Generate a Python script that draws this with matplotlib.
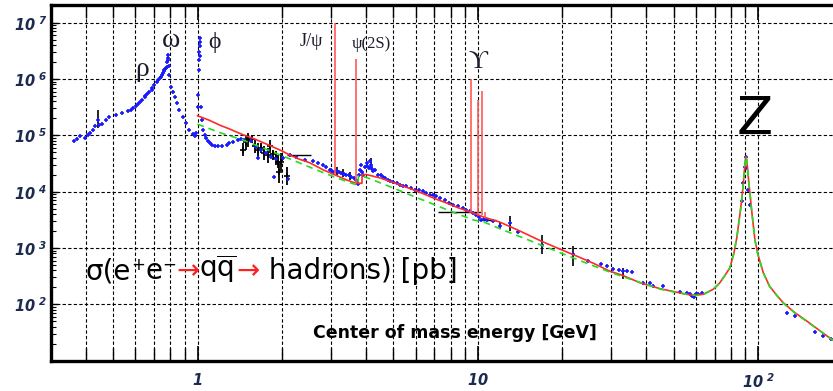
import matplotlib
matplotlib.use('Agg')
import matplotlib.pyplot as plt
import matplotlib.ticker as mticker

plt.rcParams['mathtext.fontset'] = 'custom'
plt.rcParams['mathtext.rm'] = 'DejaVu Sans:italic:bold'
plt.rcParams['mathtext.it'] = 'DejaVu Sans:italic:bold'
plt.rcParams['mathtext.bf'] = 'DejaVu Sans:italic:bold'

# --- measurements without visible error bars (E [GeV], sigma [pb]) ---
blue_E = [0.361, 0.372, 0.381, 0.398, 0.405, 0.414, 0.424, 0.432, 0.445, 0.457,
          0.470, 0.482, 0.510, 0.538, 0.565, 0.580, 0.590, 0.601, 0.611, 0.621,
          0.632, 0.647, 0.650, 0.660, 0.674, 0.688, 0.690, 0.702, 0.716, 0.720,
          0.732, 0.740, 0.745, 0.755, 0.760, 0.762, 0.768, 0.772, 0.777, 0.780,
          0.782, 0.783, 0.785, 0.788, 0.794, 0.805, 0.817, 0.828, 0.844, 0.862,
          0.886, 0.911, 0.936, 0.960, 0.976, 0.990,
          1.000, 1.005, 1.012, 1.014, 1.016, 1.017, 1.018, 1.019, 1.021, 1.025,
          1.036, 1.050, 1.060, 1.074, 1.090, 1.104, 1.13, 1.15, 1.18, 1.22,
          1.27, 1.30, 1.34, 1.39, 1.43, 1.47, 1.55, 1.62, 1.64, 1.69, 1.76,
          1.83, 1.88, 1.91, 2.02, 2.10, 2.13, 2.25, 2.41, 2.58, 2.70, 2.80,
          2.88, 2.96, 3.00, 3.05, 3.13, 3.20, 3.26, 3.33, 3.40, 3.47, 3.54,
          3.62, 3.69, 3.72, 3.75, 3.77, 3.79, 3.84, 3.87, 3.89, 3.95, 4.01,
          4.04, 4.08, 4.11, 4.16, 4.20, 4.23, 4.30, 4.40, 4.50, 4.59, 4.68,
          4.78, 4.88, 4.99, 5.13, 5.27, 5.40, 5.56, 5.76, 5.96, 6.17, 6.38,
          6.55, 6.74, 6.92, 7.11, 7.35, 7.62, 7.90, 8.16, 8.50, 8.86, 9.10,
          9.36, 9.60, 9.89, 10.1, 10.3, 10.5, 10.8, 11.3, 13.96, 24.8, 27.6,
          29.0, 30.4, 32.0, 34.0, 35.4, 38.9, 41.1, 42.3, 45.9, 52.6, 55.6,
          57.0, 58.0, 59.0, 60.0, 61.2, 62.9,
          87.7, 88.7, 89.9, 90.6, 91.0, 92.5, 93.8,
          126.6, 135.6, 160.0, 170.0, 182.0]
blue_sig = [7.8e4, 8.5e4, 9.6e4, 9.0e4, 1.0e5, 1.1e5, 1.25e5, 1.48e5, 1.55e5, 1.61e5,
            1.85e5, 2.11e5, 2.3e5, 2.48e5, 2.7e5, 2.84e5, 3.1e5, 3.35e5, 3.6e5, 3.99e5,
            4.3e5, 4.77e5, 5.0e5, 5.4e5, 6.0e5, 6.9e5, 6.5e5, 7.9e5, 8.9e5, 9.8e5,
            1.03e6, 1.08e6, 1.18e6, 1.3e6, 1.45e6, 1.36e6, 1.5e6, 1.6e6, 1.66e6, 2.0e6,
            2.4e6, 2.68e6, 2.2e6, 1.7e6, 1.19e6, 7.35e5, 5.9e5, 4.89e5, 3.83e5, 2.84e5,
            2.16e5, 1.65e5, 1.26e5, 1.05e5, 9.6e4, 1.1e5,
            5.2e5, 3.25e5, 1.45e6, 2.2e6, 3.0e6, 3.8e6, 4.6e6, 5.4e6, 2.6e6, 3.25e5,
            1.9e5, 1.26e5, 1.0e5, 9.0e4, 7.8e4, 7.3e4, 6.8e4, 6.5e4, 6.4e4, 6.6e4,
            6.8e4, 7.2e4, 7.6e4, 8.2e4, 8.6e4, 8.4e4, 8.0e4, 6.3e4, 4.0e4, 5.6e4, 4.9e4,
            4.2e4, 1.8e4, 3.8e4, 4.0e4, 1.7e4, 4.4e4, 4.2e4, 3.7e4, 3.45e4, 3.2e4, 3.0e4,
            2.7e4, 2.46e4, 2.46e4, 2.2e4, 2.3e4, 2.2e4, 2.14e4, 2.05e4, 2.0e4, 1.95e4, 1.86e4,
            1.75e4, 1.63e4, 1.5e4, 1.35e4, 2.0e4, 2.46e4, 3.0e4, 2.2e4, 2.0e4, 2.8e4, 3.2e4,
            2.9e4, 2.6e4, 3.45e4, 2.7e4, 2.5e4, 2.3e4, 2.4e4, 2.0e4, 1.95e4, 1.86e4, 1.75e4,
            1.63e4, 1.55e4, 1.5e4, 1.42e4, 1.33e4, 1.28e4, 1.24e4, 1.15e4, 1.09e4, 1.05e4, 1.02e4,
            9.4e3, 8.9e3, 8.6e3, 8.3e3, 7.8e3, 7.2e3, 6.4e3, 5.9e3, 5.5e3, 5.1e3, 4.8e3,
            4.5e3, 4.2e3, 3.9e3, 3.5e3, 3.2e3, 3.3e3, 3.1e3, 3.0e3, 1.95e3, 585, 512,
            470, 417, 400, 385, 372, 242, 242, 211, 211, 165, 157,
            150, 140, 135, 150, 151, 157,
            6.8e3, 1.43e4, 2.8e4, 4.2e4, 2.6e4, 1.09e4, 5.9e3,
            71, 62, 32, 27.6, 24]

# --- measurements drawn with black error bars ---
err_E = [0.440, 3.15, 3.30, 3.50, 4.15, 11.96, 13.0, 16.9, 21.9, 33.0]
err_sig = [1.9e5, 2.3e4, 2.1e4, 1.9e4, 3.0e4, 2.5e3, 2.8e3, 1.15e3, 770, 389]
err_lo = [1.37e5, 2.0e4, 1.8e4, 1.6e4, 2.5e4, 2.2e3, 2.0e3, 770, 477, 277]
err_hi = [2.85e5, 2.8e4, 2.5e4, 2.2e4, 3.9e4, 2.9e3, 3.7e3, 1.67e3, 1.08e3, 446]

# --- black data cluster 1.4 - 2.1 GeV ---
blk_E = [1.45, 1.49, 1.52, 1.56, 1.60, 1.64, 1.69, 1.73, 1.78, 1.81, 1.86, 1.91,
         1.94, 1.96, 1.99, 2.09]
blk_lo = [4.3e4, 5.6e4, 6.3e4, 7.4e4, 4.9e4, 4.0e4, 4.9e4, 3.7e4, 3.2e4, 4.9e4,
          3.7e4, 3.0e4, 2.6e4, 1.4e4, 2.3e4, 1.33e4]
blk_hi = [7.4e4, 1.03e5, 1.1e5, 1.03e5, 8.4e4, 7.4e4, 7.4e4, 6.4e4, 6.0e4, 8.4e4,
          5.6e4, 5.2e4, 4.5e4, 3.5e4, 4.9e4, 2.8e4]
blk_sig = [5.6e4, 7.6e4, 8.3e4, 8.7e4, 6.4e4, 5.4e4, 6.0e4, 4.9e4, 4.4e4, 6.4e4,
           4.6e4, 3.9e4, 3.4e4, 2.2e4, 3.4e4, 1.9e4]

# --- energy-range bars ---
hbar_sig = [4.4e4, 4.3e3, 3.1e3]
hbar_E1 = [2.08, 7.19, 10.3]
hbar_E2 = [2.55, 10.3, 11.6]

# --- QCD prediction (red) ---
red_E = [1.00, 1.10, 1.20, 1.30, 1.45, 1.60, 1.80, 2.00, 2.13, 2.30, 2.50, 2.65,
         2.80, 3.00, 3.20, 3.40, 3.60, 3.86, 3.87, 4.00, 4.20, 4.47, 5.00, 5.50,
         5.88, 6.50, 7.00, 7.74, 8.50, 9.61, 10.5, 11.96, 14.0, 17.0, 19.9, 23.0,
         26.0, 29.6, 33.0, 37.9, 44.7, 52.0, 57.0, 60.4, 64.0, 69.2, 73.0, 76.0,
         79.4, 82.0, 84.0, 85.1, 86.5, 87.7, 88.7, 89.6, 90.2, 90.6, 91.2, 92.0,
         92.8, 93.6, 95.0, 97.5, 100.0, 104.5, 110, 116, 123, 135, 149, 165, 183, 200]
red_sig = [2.23e5, 1.86e5, 1.52e5, 1.30e5, 1.03e5, 8.6e4, 6.7e4, 5.3e4, 4.5e4, 3.8e4,
           3.3e4, 2.85e4, 2.46e4, 2.12e4, 1.85e4, 1.62e4, 1.46e4, 1.40e4, 2.0e4, 2.02e4,
           1.90e4, 1.76e4, 1.45e4, 1.22e4, 1.09e4, 8.9e3, 7.6e3, 6.3e3, 5.2e3, 4.2e3,
           3.55e3, 2.9e3, 2.05e3, 1.3e3, 930, 690, 530, 389, 325, 242, 190, 162, 148,
           145, 152, 185, 240, 320, 446, 800, 1.5e3, 2.44e3, 4.5e3, 8.0e3, 1.43e4,
           2.6e4, 3.7e4, 4.2e4, 3.6e4, 2.3e4, 1.4e4, 9.5e3, 4.5e3, 1.42e3, 760, 363,
           210, 150, 107, 72, 51, 35, 24, 19]

# --- naive parton model (green dashed) ---
grn_E = [1.00, 1.20, 1.45, 1.80, 2.20, 2.65, 3.00, 3.40, 3.74, 3.75, 4.00, 4.50,
         5.00, 6.00, 7.00, 8.00, 9.00, 9.50, 10.5, 12.0, 15.0, 20.0, 25.0, 30.0,
         35.0, 40.0, 45.0, 52.0, 57.0, 60.4, 64.0, 69.2, 73.0, 76.0, 79.4, 82.0,
         84.0, 85.1, 86.5, 87.7, 88.7, 89.6, 90.2, 90.6, 91.2, 92.0, 92.8, 93.6,
         95.0, 97.5, 100.0, 104.5, 110, 116, 123, 135, 149, 165, 183, 200]
grn_sig = [1.58e5, 1.12e5, 8.3e4, 5.4e4, 3.6e4, 2.45e4, 1.92e4, 1.52e4, 1.30e4, 1.9e4,
           1.8e4, 1.43e4, 1.16e4, 8.0e3, 5.9e3, 4.5e3, 3.6e3, 3.2e3, 2.9e3, 2.2e3,
           1.42e3, 800, 515, 365, 280, 225, 185, 160, 147, 144, 151, 184, 238, 318,
           444, 795, 1.5e3, 2.43e3, 4.5e3, 8.0e3, 1.42e4, 2.6e4, 3.7e4, 4.2e4, 3.6e4,
           2.3e4, 1.4e4, 9.4e3, 4.5e3, 1.41e3, 755, 360, 208, 149, 106, 71, 50, 35, 24, 19]

# --- narrow resonances (J/psi, psi(2S), Upsilon 1S/2S/3S/4S) ---
spike_E = [3.097, 3.686, 9.46, 10.023, 10.355, 10.58]
spike_base = [2.1e4, 1.45e4, 4.3e3, 3.9e3, 3.8e3, 3.4e3]
spike_peak = [1.0e7, 2.25e6, 1.0e6, 4.3e5, 6.2e5, 4.3e3]

fig = plt.figure(figsize=(8.33, 3.91), dpi=100)
ax = fig.add_axes([0.0612, 0.0775, 0.95, 0.9097])
ax.set_xscale('log')
ax.set_yscale('log')
ax.set_xlim(0.3, 200)
ax.set_ylim(10, 2.06e7)

ax.xaxis.set_major_locator(mticker.FixedLocator([1, 10, 100]))
ax.xaxis.set_major_formatter(mticker.FixedFormatter(['$1$', '$10$', r'$10^{\ 2}$']))
ax.xaxis.set_minor_locator(mticker.LogLocator(base=10, subs=range(2, 10), numticks=20))
ax.xaxis.set_minor_formatter(mticker.NullFormatter())
ydec = [1e2, 1e3, 1e4, 1e5, 1e6, 1e7]
ax.yaxis.set_major_locator(mticker.FixedLocator(ydec))
ax.yaxis.set_major_formatter(mticker.FixedFormatter(
    [r'$10^{\ %d}$' % k for k in range(2, 8)]))
ax.yaxis.set_minor_locator(mticker.LogLocator(base=10, subs=range(2, 10), numticks=20))
ax.yaxis.set_minor_formatter(mticker.NullFormatter())

lab_col = '#1c2a50'
ax.tick_params(axis='x', which='major', direction='in', length=11, width=1.2,
               top=True, bottom=True, pad=8, labelsize=10.5, labelcolor=lab_col)
ax.tick_params(axis='x', which='minor', direction='in', length=9.5, width=1.0,
               top=True, bottom=True)
ax.tick_params(axis='y', which='major', direction='in', length=5, width=1.0,
               pad=3, labelsize=10.5, labelcolor=lab_col, right=False)
ax.tick_params(axis='y', which='minor', direction='in', length=3.5, width=0.8,
               right=False)
for sp in ax.spines.values():
    sp.set_linewidth(2.4)

ax.grid(True, which='major', axis='both', color='black', lw=0.8, ls=(0, (3, 2)))
ax.grid(True, which='minor', axis='x', color='black', lw=0.8, ls=(0, (3, 2)))

# data
ax.vlines(blk_E, blk_lo, blk_hi, color='black', lw=1.3, zorder=3)
ax.plot(blk_E, blk_sig, ls='none', marker='+', ms=4, mew=1.2, color='black', zorder=3)
ax.hlines(hbar_sig, hbar_E1, hbar_E2, color='black', lw=1.0, zorder=3)
ax.vlines(err_E, err_lo, err_hi, color='black', lw=1.2, zorder=3)
ax.plot(blue_E, blue_sig, ls='none', marker='+', ms=3.5, mew=1.2, color='#1a1aff', zorder=3)
ax.plot(err_E, err_sig, ls='none', marker='+', ms=3.5, mew=1.2, color='#1a1aff', zorder=3)

# theory
ax.plot(red_E, red_sig, color='#ff2a2a', lw=1.2, zorder=4)
ax.vlines(spike_E, spike_base, spike_peak, color='#ff5a5a', lw=1.2, zorder=4)
ax.plot(grn_E, grn_sig, color='#22dd22', lw=1.2, ls=(0, (4, 3)), zorder=5)

# labels of resonances
gk = dict(family=['Liberation Serif', 'DejaVu Serif'], color='#1c1c2c',
          ha='center', va='center')
ax.text(0.637, 1.45e6, 'ρ', fontsize=20, **gk)
ax.text(0.807, 4.9e6, 'ω', fontsize=20, **gk)
ax.text(1.15, 4.36e6, 'ϕ', fontsize=17, **gk)
ax.text(2.55, 4.7e6, 'J/ψ', fontsize=13, **gk)
ax.text(4.18, 4.2e6, 'ψ(2S)', fontsize=12, **gk)
ax.text(10.0, 2.0e6, 'ϒ', fontsize=19, **gk)
ax.text(97.5, 1.9e5, 'Z', fontsize=38, color='black', ha='center', va='center')

# sigma(e+e- -> q qbar -> hadrons) [pb]
fs = 20
t1 = ax.text(0.40, 385, 'σ(e', fontsize=fs, va='center', ha='left')
tp = ax.annotate('+', xy=(1, 0.42), xycoords=t1, va='bottom', fontsize=12)
te = ax.annotate('e', xy=(1, 0), xycoords=(tp, t1), va='bottom', fontsize=fs)
tm = ax.annotate('\u2212', xy=(1, 0.42), xycoords=(te, t1), va='bottom', fontsize=12)
ta = ax.annotate('\u2192', xy=(1, 0), xycoords=(tm, t1), va='bottom', fontsize=fs,
                 color='#ff2020')
tq = ax.annotate(r'$\mathrm{q}\overline{\mathrm{q}}$', xy=(1, 0), xycoords=(ta, t1),
                 va='bottom', fontsize=fs, math_fontfamily='dejavusans')
tb = ax.annotate('\u2192', xy=(1, 0), xycoords=(tq, t1), va='bottom', fontsize=fs,
                 color='#ff2020')
ax.annotate(' hadrons) [pb]', xy=(1, 0), xycoords=(tb, t1), va='bottom', fontsize=fs)

ax.text(8.28, 30.6, 'Center of mass energy [GeV]', fontsize=12.5, fontweight='bold',
        ha='center', va='center')

fig.savefig('out.png', dpi=100)
